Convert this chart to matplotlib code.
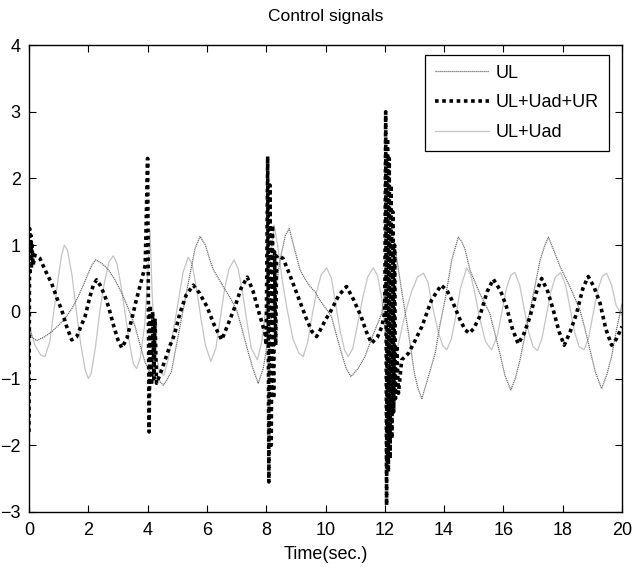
import matplotlib
matplotlib.use("Agg")
import matplotlib.pyplot as plt
from matplotlib import font_manager

names = {f.name for f in font_manager.fontManager.ttflist}
fam = ["Liberation Sans Narrow", "Liberation Sans", "DejaVu Sans"]
fam = [f for f in fam if f in names] or ["DejaVu Sans"]
plt.rcParams["font.family"] = fam

# ---- data ----
t_ul = [0.0, 0.1, 0.25, 0.5, 0.76, 1.0, 1.21, 1.45, 1.66, 1.85, 2.0, 2.12, 2.25, 2.45, 2.68,
        2.9, 3.13, 3.35, 3.58, 3.75, 3.91, 4.05, 4.25, 4.53, 4.65, 4.8, 4.95, 5.1, 5.2, 5.4,
        5.6, 5.77, 5.95, 6.1, 6.22, 6.55, 6.8, 7.0, 7.15, 7.34, 7.55, 7.73, 7.9, 8.1, 8.3,
        8.5, 8.65, 8.78, 8.95, 9.14, 9.3, 9.48, 9.65, 9.8, 10.0, 10.2, 10.37, 10.54, 10.7,
        10.86, 11.1, 11.33, 11.6, 11.9, 12.05, 12.23, 12.35, 12.46, 12.63, 12.8, 13.0, 13.12,
        13.25, 13.45, 13.7, 13.85, 14.03, 14.26, 14.48, 14.6, 14.71, 14.87, 15.2, 15.54, 15.7,
        15.88, 16.05, 16.25, 16.4, 16.56, 16.9, 17.07, 17.24, 17.4, 17.52, 17.7, 17.91, 18.24,
        18.58, 18.75, 18.92, 19.1, 19.31, 19.48, 19.65, 19.8, 20.0]
v_ul = [-0.20, -0.38, -0.43, -0.38, -0.30, -0.20, -0.10, 0.05, 0.23, 0.42, 0.58, 0.70, 0.78, 0.73, 0.63,
        0.48, 0.28, 0.05, -0.22, -0.50, -0.75, -0.88, -0.97, -1.10, -1.02, -0.90, -0.55, -0.20, 0.03, 0.50,
        0.95, 1.13, 1.00, 0.78, 0.63, 0.38, 0.20, 0.03, -0.20, -0.52, -0.85, -1.07, -0.85, -0.30, 0.30,
        0.85, 1.15, 1.25, 0.95, 0.63, 0.50, 0.38, 0.30, 0.18, 0.06, -0.07, -0.35, -0.62, -0.85,
        -0.97, -0.85, -0.67, -0.35, -0.02, 0.50, 1.28, 0.95, 0.63, 0.15, -0.32, -0.92, -1.15,
        -1.30, -1.00, -0.62, -0.22, 0.18, 0.78, 1.12, 1.05, 0.93, 0.63, 0.28, -0.02, -0.30,
        -0.62, -0.95, -1.17, -1.00, -0.72, 0.03, 0.40, 0.78, 1.00, 1.12, 0.92, 0.68, 0.38,
        0.03, -0.25, -0.57, -0.90, -1.15, -0.95, -0.67, -0.30, 0.12]

t_ur = [0.0, 0.02, 0.04, 0.06, 0.08, 0.10, 0.14, 0.2, 0.37, 0.55, 0.76, 0.93, 1.1, 1.27, 1.44,
        1.6, 1.75, 1.89, 2.05, 2.17, 2.28, 2.4, 2.55, 2.68, 2.85, 3.0, 3.13, 3.3, 3.46, 3.62,
        3.8, 3.92, 4.0, 4.05, 4.09, 4.13, 4.17, 4.21, 4.25, 4.3, 4.45, 4.59, 4.76, 4.9, 5.09,
        5.3, 5.54, 5.75, 6.0, 6.25, 6.5, 6.7, 6.95, 7.15, 7.36, 7.55, 7.73, 7.96, 8.0, 8.05,
        8.09, 8.13, 8.17, 8.21, 8.25, 8.28, 8.32, 8.35, 8.4, 8.57, 8.8, 9.03, 9.2, 9.37, 9.55,
        9.7, 9.85, 10.0, 10.2, 10.45, 10.71, 10.95, 11.2, 11.38, 11.55, 11.75, 11.9, 12.0,
        12.03, 12.06, 12.09, 12.12, 12.15, 12.18, 12.21, 12.24, 12.27, 12.3, 12.33, 12.36,
        12.4, 12.46, 12.57, 12.8, 13.0, 13.25, 13.58, 13.9, 14.1, 14.26, 14.54, 14.71, 14.85,
        15.0, 15.2, 15.45, 15.66, 15.9, 16.1, 16.3, 16.5, 16.7, 16.9, 17.1, 17.29, 17.5, 17.68,
        17.88, 18.05, 18.25, 18.47, 18.68, 18.86, 19.05, 19.26, 19.45, 19.65, 19.82, 20.0]
v_ur = [-1.80, 1.25, 0.60, 1.15, 0.65, 1.00, 0.70, 0.85, 0.80, 0.62, 0.43, 0.22, 0.03, -0.22, -0.42,
        -0.38, -0.22, -0.07, 0.22, 0.40, 0.48, 0.40, 0.25, 0.08, -0.20, -0.42, -0.54, -0.40, -0.12, 0.18,
        0.48, 0.70, 2.30, -1.80, 0.10, -1.10, 0.00, -1.00, -0.10, -1.07, -0.90, -0.72, -0.50, -0.35, -0.02,
        0.25, 0.40, 0.28, 0.08, -0.20, -0.42, -0.20, 0.08, 0.35, 0.52, 0.32, 0.03, -0.32, -0.50, 2.33,
        -2.55, 1.90, -2.00, 1.30, -1.30, 0.90, -0.50, 0.83, 0.85, 0.80, 0.55, 0.28, 0.08, -0.12, -0.30,
        -0.37, -0.25, -0.12, 0.03, 0.25, 0.38, 0.18, -0.07, -0.30, -0.47, -0.38, -0.22, 0.00,
        3.00, -2.90, 2.60, -2.40, 2.30, -2.20, 1.90, -1.90, 1.50, -1.50, 1.00, -1.30,
        -0.50, -1.22, -0.72, -0.62, -0.45, -0.22, 0.18, 0.40, 0.32, 0.18, -0.12, -0.27, -0.32,
        -0.25, -0.07, 0.30, 0.49, 0.32, 0.08, -0.25, -0.48, -0.32, -0.07, 0.28, 0.50, 0.30, 0.03,
        -0.30, -0.50, -0.30, -0.02, 0.35, 0.53, 0.38, 0.13, -0.25, -0.50, -0.40, -0.22]

t_ad = [0.0, 0.2, 0.4, 0.54, 0.7, 0.85, 1.0, 1.1, 1.19, 1.3, 1.45, 1.6, 1.75, 1.9, 2.0, 2.1,
        2.25, 2.4, 2.55, 2.7, 2.84, 2.97, 3.1, 3.25, 3.4, 3.52, 3.63, 3.75, 3.9, 4.0, 4.08,
        4.15, 4.25, 4.4, 4.55, 4.7, 4.9, 5.05, 5.2, 5.37, 5.5, 5.65, 5.8, 5.95, 6.13, 6.3,
        6.45, 6.6, 6.75, 6.92, 7.05, 7.2, 7.35, 7.5, 7.7, 7.85, 8.0, 8.15, 8.27, 8.4, 8.55,
        8.7, 8.9, 9.1, 9.25, 9.4, 9.55, 9.7, 9.85, 10.04, 10.2, 10.35, 10.5, 10.65, 10.77,
        10.92, 11.1, 11.25, 11.42, 11.61, 11.75, 11.9, 12.05, 12.15, 12.3, 12.5, 12.7, 12.9,
        13.1, 13.3, 13.45, 13.6, 13.8, 13.95, 14.09, 14.25, 14.4, 14.55, 14.76, 14.9, 15.05,
        15.2, 15.4, 15.6, 15.8, 15.95, 16.1, 16.25, 16.39, 16.55, 16.7, 16.85, 17.0, 17.15,
        17.3, 17.45, 17.6, 17.75, 17.93, 18.1, 18.25, 18.4, 18.55, 18.72, 18.88, 19.03, 19.18,
        19.33, 19.48, 19.65, 19.8, 20.0]
v_ad = [-0.20, -0.50, -0.65, -0.67, -0.45, 0.05, 0.55, 0.85, 1.00, 0.92, 0.55, 0.00, -0.50, -0.88, -1.00, -0.92,
        -0.50, 0.05, 0.45, 0.75, 0.84, 0.72, 0.40, -0.05, -0.50, -0.78, -0.85, -0.70, -0.20, 0.50, 1.23,
        0.30, -0.55, -0.90, -0.95, -0.70, -0.20, 0.20, 0.60, 0.82, 0.72, 0.35, -0.10, -0.50, -0.74, -0.55,
        -0.10, 0.35, 0.65, 0.78, 0.65, 0.30, -0.15, -0.55, -0.72, -0.45, 0.10, 0.80, 1.30, 0.95, 0.45,
        0.05, -0.40, -0.62, -0.67, -0.45, -0.05, 0.30, 0.55, 0.66, 0.50, 0.10, -0.30, -0.58, -0.67,
        -0.55, -0.15, 0.20, 0.52, 0.66, 0.55, 0.20, -0.50, -1.30, -0.80, -0.40, 0.00, 0.30,
        0.52, 0.58, 0.45, 0.10, -0.30, -0.50, -0.57, -0.40, -0.05, 0.35, 0.66, 0.55, 0.25,
        -0.10, -0.45, -0.57, -0.35, 0.00, 0.35, 0.55, 0.59, 0.40, 0.05, -0.30, -0.52, -0.58,
        -0.40, -0.05, 0.30, 0.52, 0.59, 0.40, 0.05, -0.30, -0.52, -0.57, -0.38, -0.02, 0.32,
        0.53, 0.58, 0.40, 0.10, -0.05]

labels = ["UL", "UL+Uad+UR", "UL+Uad"]
x_ticks = list(range(0, 21, 2))
y_ticks = list(range(-3, 5))

W, H = 636, 570
fig = plt.figure(figsize=(W / 100, H / 100), dpi=100)
ax = fig.add_axes([29 / W, 1 - 512 / H, (622 - 29) / W, (512 - 45) / H])

ax.plot(t_ul, v_ul, color="#6e6e6e", lw=0.9, ls=(0, (1, 0.6)), label=labels[0], zorder=2)
ax.plot(t_ur, v_ur, color="black", lw=2.6, ls=(0, (1, 1)), label=labels[1], zorder=3)
ax.plot(t_ad, v_ad, color="#c4c4c4", lw=0.9, ls="-", label=labels[2], zorder=1)

ax.set_xlim(0, 20)
ax.set_ylim(-3, 4)
ax.set_xticks(x_ticks)
ax.set_yticks(y_ticks)
ax.tick_params(direction="in", length=5, width=0.8, top=True, right=True, labelsize=13)
ax.tick_params(axis="x", pad=7)
ax.tick_params(axis="y", pad=6)
for s in ax.spines.values():
    s.set_linewidth(1.0)

ax.set_title("Control signals", fontsize=12.5, pad=17)
ax.set_xlabel("Time(sec.)", fontsize=13, labelpad=5)

leg = ax.legend(loc="upper right", bbox_to_anchor=(0.978, 0.979), borderaxespad=0,
                fancybox=False, edgecolor="black", framealpha=1, fontsize=13,
                handlelength=3.0, handletextpad=0.4, labelspacing=0.7,
                borderpad=0.55)
leg.get_frame().set_linewidth(0.9)

fig.savefig("out.png", dpi=100)
